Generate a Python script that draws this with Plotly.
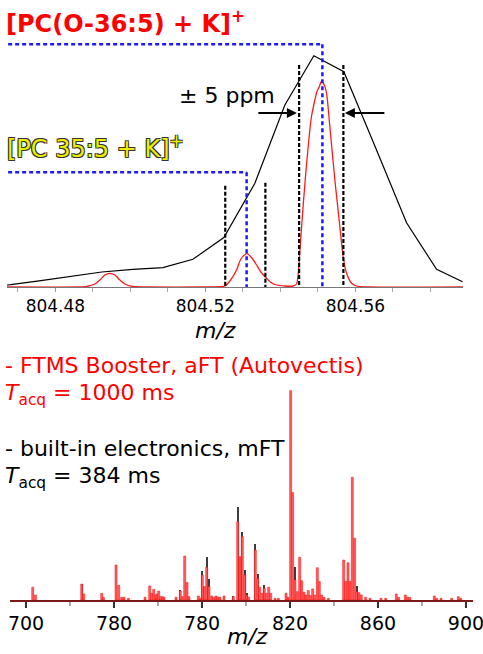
import plotly.graph_objects as go

W, H = 483, 654

# ---------------- top panel: profile around m/z 804.5 ----------------
top_black_mz = [804.46707, 804.46813, 804.47613, 804.48440, 804.49240, 804.50067,
                804.50867, 804.51667, 804.52493, 804.53320, 804.54120, 804.54893,
                804.55693, 804.56520, 804.57365, 804.58165, 804.58859]
top_black_int = [2.0, 2.3, 6.3, 11.0, 15.0, 17.7, 19.3, 27.7, 49.5, 103.7, 182.0,
                 231.3, 215.3, 141.0, 64.3, 17.7, 5.3]

top_red_mz = [804.46707, 804.48645, 804.48840, 804.49053, 804.49187, 804.49320,
              804.49453, 804.49587, 804.49720, 804.49853, 804.50067, 804.50520,
              804.51853, 804.52387, 804.52520, 804.52653, 804.52832, 804.52947,
              804.53099, 804.53240, 804.53365, 804.53480, 804.53632, 804.53747,
              804.53853, 804.54120, 804.54341, 804.54432, 804.54475, 804.54565,
              804.54675, 804.54827, 804.54981, 804.55035, 804.55099, 804.55160,
              804.55232, 804.55320, 804.55453, 804.55587, 804.55675, 804.55765,
              804.55899, 804.56032, 804.56387, 804.58867]
top_red_int = [0, 0, 0.5, 3, 7, 12, 13.7, 12, 7, 3, 0.5, 0,
               0, 0.3, 1, 6, 17, 28, 33.7, 29, 22, 15, 8.7, 4.5,
               2.5, 1, 1, 3, 13, 60, 113, 170, 196, 200, 206, 203,
               193.7, 160, 107, 60, 30, 13.7, 3.7, 1, 0, 0]

top_tick_vals = [804.48, 804.52, 804.56]
top_tick_text = ["804.48", "804.52", "804.56"]

# reference m/z markers (blue) and their label levels
ref_mz = [804.5512, 804.5310]
ref_level = [242.7, 114.7]
# +/- 5 ppm windows (black dotted)
win_lo = [804.5450, 804.5253]
win_hi = [804.5568, 804.5360]
win_top_lo = [222.0, 101.3]
win_top_hi = [222.0, 104.3]

# ---------------- bottom panel: full spectrum ----------------
ms_red_mz = [703.03, 704.24, 725.30, 726.21, 734.39, 735.15, 740.91, 742.12, 743.48,
             744.55, 746.52, 754.09, 756.21, 757.12, 758.03, 758.94, 759.55, 760.30,
             761.06, 761.97, 762.73, 768.18, 770.15, 771.06, 772.12, 773.18, 774.09,
             778.33, 779.09, 780.15, 781.06, 782.12, 783.18, 784.39, 785.30, 786.36,
             787.27, 788.18, 790.00, 794.24, 796.21, 797.27, 798.33, 799.39, 800.30,
             801.21, 804.24, 805.30, 806.21, 807.42, 808.33, 809.24, 810.30, 811.21,
             813.18, 814.70, 818.18, 819.09, 820.30, 821.21, 822.27, 823.33, 824.39,
             825.30, 826.36, 827.27, 828.33, 829.24, 830.30, 831.21, 832.42, 833.33,
             834.39, 835.45, 837.42, 844.39, 845.30, 846.36, 847.27, 848.33, 849.39,
             850.30, 851.36, 852.42, 854.39, 856.36, 861.36, 863.48, 868.33, 869.39,
             872.42, 873.33, 874.39, 885.61, 886.67, 888.64, 893.48, 896.52, 897.58]
ms_red_int = [6.1, 2.4, 7.6, 2.9, 3.2, 1.3, 16.7, 7.0, 1.3,
              1.3, 0.8, 1.3, 6.7, 3.2, 5.1, 2.4, 2.9, 4.3,
              1.6, 1.6, 1.3, 1.3, 4.3, 1.6, 21.0, 8.3, 1.6,
              1.9, 0.8, 11.9, 6.4, 15.6, 6.4, 1.9, 1.3, 1.9,
              1.3, 1.3, 1.9, 1.6, 37.4, 20.7, 30.3, 11.9, 2.4,
              1.3, 23.9, 10.4, 6.1, 3.2, 5.6, 3.2, 6.1, 3.2,
              0.8, 0.8, 3.2, 1.3, 100.0, 51.3, 9.6, 4.0, 20.4,
              9.2, 3.7, 2.4, 4.5, 2.1, 5.3, 2.4, 15.4, 8.8,
              2.4, 1.3, 0.8, 19.1, 8.9, 17.8, 8.9, 58.6, 29.5,
              4.0, 3.5, 2.4, 1.3, 0.8, 0.8, 0.8, 2.9, 1.3,
              2.4, 1.3, 1.3, 1.9, 0.8, 0.8, 0.8, 1.6, 0.8]

ms_black_mz = [725.30, 770.15, 780.15, 781.06, 782.12, 783.18, 794.24, 796.21, 797.27,
               798.33, 799.39, 800.30, 804.24, 805.30, 808.33, 822.27, 850.30]
ms_black_int = [7.6, 4.8, 14.0, 6.4, 20.7, 9.9, 1.9, 44.6, 20.7,
                32.3, 14.3, 3.2, 26.8, 12.4, 7.3, 15.6, 6.7]

bottom_tick_vals = [700, 740, 780, 820, 860, 900]
bottom_tick_text = ["700", "780", "780", "820", "860", "900"]

FONT = "DejaVu Sans"

def px(x, y):
    return x / W, 1 - y / H

fig = go.Figure()
fig.add_trace(go.Scatter(x=top_black_mz, y=top_black_int, mode="lines",
                         line=dict(color="black", width=1.2), xaxis="x", yaxis="y",
                         hoverinfo="skip"))
fig.add_trace(go.Scatter(x=top_red_mz, y=top_red_int, mode="lines",
                         line=dict(color="#ff1a1a", width=1.3, shape="spline", smoothing=0.6),
                         xaxis="x", yaxis="y", hoverinfo="skip"))
fig.add_trace(go.Bar(x=ms_black_mz, y=ms_black_int, width=0.9,
                     marker=dict(color="#3c3c3c", line=dict(width=0)),
                     xaxis="x2", yaxis="y2", hoverinfo="skip"))
fig.add_trace(go.Bar(x=ms_red_mz, y=ms_red_int, width=0.9,
                     marker=dict(color="#ff6060", line=dict(color="#ff0000", width=0.5)),
                     xaxis="x2", yaxis="y2", hoverinfo="skip"))

xmin_top, xmax_top = 804.4671, 804.5887
shapes = []
for m, lev in zip(ref_mz, ref_level):
    shapes.append(dict(type="line", xref="x", yref="y", x0=xmin_top + 0.0003, x1=m, y0=lev, y1=lev,
                       line=dict(color="#1a1aff", width=2.5, dash="4px,3px")))
    shapes.append(dict(type="line", xref="x", yref="y", x0=m, x1=m, y0=lev, y1=0,
                       line=dict(color="#1a1aff", width=2.5, dash="4px,3px")))
for lo, hi, tl, th in zip(win_lo, win_hi, win_top_lo, win_top_hi):
    shapes.append(dict(type="line", xref="x", yref="y", x0=lo, x1=lo, y0=tl, y1=0,
                       line=dict(color="black", width=2.2, dash="4px,2px")))
    shapes.append(dict(type="line", xref="x", yref="y", x0=hi, x1=hi, y0=th, y1=0,
                       line=dict(color="black", width=2.2, dash="4px,2px")))

ann = []
def txt(x, y, text, size, color="black", xanchor="left", **kw):
    xx, yy = px(x, y)
    d = dict(x=xx, y=yy, xref="paper", yref="paper", text=text, showarrow=False,
             xanchor=xanchor, yanchor="middle", font=dict(family=FONT, size=size, color=color))
    d["font"].update(kw.pop("font_extra", {}))
    d.update(kw)
    ann.append(d)

txt(4, 22, "<b>[PC(O-36:5) + K]<sup>+</sup></b>", 24, color="#ff0000")
txt(5, 147, "[PC 35:5 + K]<sup>+</sup>", 24, color="#eeee00",
    font_extra=dict(shadow="-1px -1px 0 #333, 1px -1px 0 #333, -1px 1px 0 #333, 1px 1px 0 #333"))
txt(177, 95, "± 5 ppm", 22)
txt(215, 330, "<i>m/z</i>", 22, xanchor="center")
txt(247, 636, "<i>m/z</i>", 22, xanchor="center")
txt(3, 365, "- FTMS Booster, aFT (Autovectis)", 22, color="#ff0000")
txt(3, 394, "<i>T</i><sub>acq</sub> = 1000 ms", 22, color="#ff0000")
txt(3, 448, "- built-in electronics, mFT", 22)
txt(3, 477, "<i>T</i><sub>acq</sub> = 384 ms", 22)

# arrows pointing at the ppm window
ann.append(dict(x=win_lo[0] - 0.0006, y=174, xref="x", yref="y", ax=-40, ay=0, text="",
                showarrow=True, arrowhead=2, arrowsize=1, arrowwidth=2, arrowcolor="black"))
ann.append(dict(x=win_hi[0] + 0.0004, y=174, xref="x", yref="y", ax=41, ay=0, text="",
                showarrow=True, arrowhead=2, arrowsize=1, arrowwidth=2, arrowcolor="black"))

fig.update_layout(
    template="none",
    width=W, height=H, autosize=False,
    margin=dict(l=0, r=0, t=0, b=0, pad=0),
    paper_bgcolor="white", plot_bgcolor="white",
    showlegend=False, barmode="overlay", bargap=0,
    font=dict(family=FONT, color="black"),
    shapes=shapes, annotations=ann,
    xaxis=dict(domain=[7 / W, 463 / W], range=[xmin_top, xmax_top], anchor="y",
               automargin=False,
               tickvals=top_tick_vals, ticktext=top_tick_text, ticks="outside",
               ticklen=4, tickcolor="#999", tickwidth=1, ticklabeloverflow="allow",
               tickfont=dict(family=FONT, size=17, color="black"),
               minor=dict(tick0=804.47, dtick=0.01, ticks="outside", ticklen=4,
                          tickcolor="#aaa", showgrid=False),
               showline=True, linecolor="#777", linewidth=1,
               showgrid=False, zeroline=False),
    yaxis=dict(domain=[1 - 287 / H, 1 - 40 / H], range=[0, 247], visible=False,
               automargin=False, showgrid=False, zeroline=False),
    xaxis2=dict(domain=[10 / W, 473 / W], range=[692.7, 903.2], anchor="y2",
                automargin=False,
                tickvals=bottom_tick_vals, ticktext=bottom_tick_text, ticks="outside",
                ticklen=6, tickcolor="#333", tickwidth=1.5, ticklabeloverflow="allow",
                tickfont=dict(family=FONT, size=19, color="black"),
                minor=dict(tick0=700, dtick=20, ticks="outside", ticklen=4,
                           tickcolor="#aaa", showgrid=False),
                showline=True, linecolor="#7a1a1a", linewidth=1.5,
                showgrid=False, zeroline=False),
    yaxis2=dict(domain=[1 - 600 / H, 1 - 385 / H], range=[0, 102.7], visible=False,
                automargin=False, showgrid=False, zeroline=False),
)

fig.write_html("out.html", config={"displayModeBar": False, "staticPlot": True},
               post_script="document.body.style.margin='0px';")
